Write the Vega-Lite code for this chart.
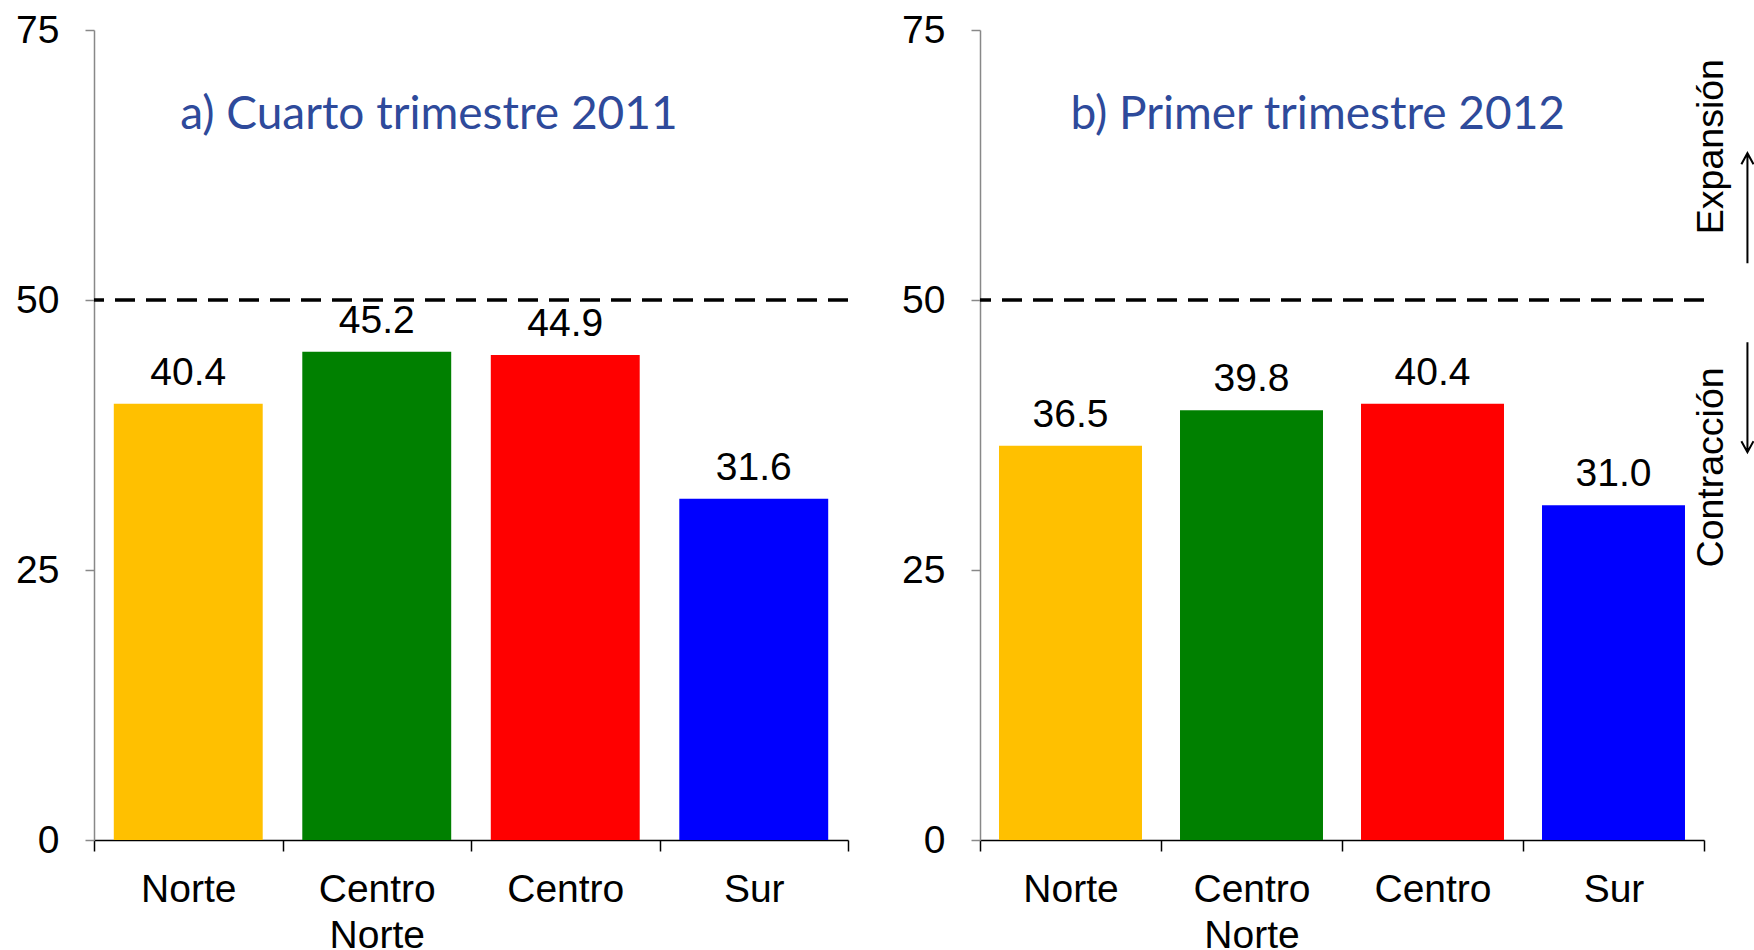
{
  "$schema": "https://vega.github.io/schema/vega-lite/v6.json",
  "background": "white",
  "padding": {"left": 15, "top": 11, "right": 0, "bottom": 0},
  "spacing": 51,
  "config": {"view": {"stroke": null}, "font": "Liberation Sans"},
  "datasets": {
    "cuarto2011": [
      {"region": "Norte", "valor": 40.4},
      {"region": "Centro Norte", "valor": 45.2},
      {"region": "Centro", "valor": 44.9},
      {"region": "Sur", "valor": 31.6}
    ],
    "primer2012": [
      {"region": "Norte", "valor": 36.5},
      {"region": "Centro Norte", "valor": 39.8},
      {"region": "Centro", "valor": 40.4},
      {"region": "Sur", "valor": 31.0}
    ]
  },
  "hconcat": [
    {
      "width": 754,
      "height": 810,
      "layer": [
        {
          "data": {"name": "cuarto2011"},
          "mark": {"type": "bar", "width": {"band": 0.79}},
          "encoding": {
            "x": {"field": "region", "type": "nominal", "sort": null,
              "scale": {"domain": ["Norte", "Centro Norte", "Centro", "Sur"], "paddingInner": 0, "paddingOuter": 0},
              "axis": {"title": null, "labelAngle": 0, "labelFontSize": 39, "labelColor": "black", "labelPadding": 19, "labelBaseline": "top", "labelLineHeight": 46,
                "labelExpr": "datum.value == 'Centro Norte' ? ['Centro', 'Norte'] : datum.value",
                "tickBand": "extent", "tickSize": 11, "tickColor": "black", "tickWidth": 1.5, "domainColor": "black", "domainWidth": 1.5, "grid": false}},
            "y": {"field": "valor", "type": "quantitative",
              "scale": {"domain": [0, 75], "nice": false},
              "axis": {"title": null, "values": [0, 25, 50, 75], "labelFontSize": 39, "labelColor": "black", "labelPadding": 26, "tickSize": 9, "tickColor": "#888888", "tickWidth": 1.5, "domainColor": "#888888", "domainWidth": 1.5, "grid": false}},
            "color": {"field": "region", "type": "nominal",
              "scale": {"domain": ["Norte", "Centro Norte", "Centro", "Sur"], "range": ["#FFC000", "#008000", "#FF0000", "#0000FF"]},
              "legend": null}
          }
        },
        {
          "data": {"name": "cuarto2011"},
          "mark": {"type": "text", "baseline": "alphabetic", "dy": -19, "fontSize": 39, "color": "black"},
          "encoding": {
            "x": {"field": "region", "type": "nominal", "sort": null},
            "y": {"field": "valor", "type": "quantitative"},
            "text": {"field": "valor", "type": "quantitative", "format": ".1f"}
          }
        },
        {
          "data": {"values": [{"nivel": 50}]},
          "mark": {"type": "rule", "strokeDash": [20, 11], "strokeWidth": 3.4, "color": "black"},
          "encoding": {"y": {"field": "nivel", "type": "quantitative"}}
        },
        {
          "data": {"values": [{"titulo": "a) Cuarto trimestre 2011"}]},
          "mark": {"type": "text", "align": "left", "baseline": "alphabetic", "font": "Lato", "fontSize": 46, "color": "#2E4A9B", "dx": -8},
          "encoding": {
            "x": {"datum": "Norte"},
            "y": {"datum": 65.8},
            "text": {"field": "titulo"}
          }
        }
      ]
    },
    {
      "width": 724,
      "height": 810,
      "layer": [
        {
          "data": {"name": "primer2012"},
          "mark": {"type": "bar", "width": {"band": 0.79}},
          "encoding": {
            "x": {"field": "region", "type": "nominal", "sort": null,
              "scale": {"domain": ["Norte", "Centro Norte", "Centro", "Sur"], "paddingInner": 0, "paddingOuter": 0},
              "axis": {"title": null, "labelAngle": 0, "labelFontSize": 39, "labelColor": "black", "labelPadding": 19, "labelBaseline": "top", "labelLineHeight": 46,
                "labelExpr": "datum.value == 'Centro Norte' ? ['Centro', 'Norte'] : datum.value",
                "tickBand": "extent", "tickSize": 11, "tickColor": "black", "tickWidth": 1.5, "domainColor": "black", "domainWidth": 1.5, "grid": false}},
            "y": {"field": "valor", "type": "quantitative",
              "scale": {"domain": [0, 75], "nice": false},
              "axis": {"title": null, "values": [0, 25, 50, 75], "labelFontSize": 39, "labelColor": "black", "labelPadding": 26, "tickSize": 9, "tickColor": "#888888", "tickWidth": 1.5, "domainColor": "#888888", "domainWidth": 1.5, "grid": false}},
            "color": {"field": "region", "type": "nominal",
              "scale": {"domain": ["Norte", "Centro Norte", "Centro", "Sur"], "range": ["#FFC000", "#008000", "#FF0000", "#0000FF"]},
              "legend": null}
          }
        },
        {
          "data": {"name": "primer2012"},
          "mark": {"type": "text", "baseline": "alphabetic", "dy": -19, "fontSize": 39, "color": "black"},
          "encoding": {
            "x": {"field": "region", "type": "nominal", "sort": null},
            "y": {"field": "valor", "type": "quantitative"},
            "text": {"field": "valor", "type": "quantitative", "format": ".1f"}
          }
        },
        {
          "data": {"values": [{"nivel": 50}]},
          "mark": {"type": "rule", "strokeDash": [20, 11], "strokeWidth": 3.4, "color": "black"},
          "encoding": {"y": {"field": "nivel", "type": "quantitative"}}
        },
        {
          "data": {"values": [{"titulo": "b) Primer trimestre 2012"}]},
          "mark": {"type": "text", "align": "left", "baseline": "alphabetic", "font": "Lato", "fontSize": 46, "color": "#2E4A9B", "dx": 0},
          "encoding": {
            "x": {"datum": "Norte"},
            "y": {"datum": 65.8},
            "text": {"field": "titulo"}
          }
        },
        {
          "data": {"values": [{"etiqueta": "Expansión"}]},
          "mark": {"type": "text", "angle": 270, "align": "center", "baseline": "middle", "fontSize": 37.5, "color": "black"},
          "encoding": {
            "x": {"datum": "Sur", "bandPosition": 1.044},
            "y": {"datum": 64.2},
            "text": {"field": "etiqueta"}
          }
        },
        {
          "data": {"values": [{"etiqueta": "Contracción"}]},
          "mark": {"type": "text", "angle": 270, "align": "center", "baseline": "middle", "fontSize": 37.5, "color": "black"},
          "encoding": {
            "x": {"datum": "Sur", "bandPosition": 1.044},
            "y": {"datum": 34.5},
            "text": {"field": "etiqueta"}
          }
        },
        {
          "data": {"values": [{"sentido": "arriba"}]},
          "mark": {"type": "point", "shape": "M0,1L0,-1M-0.11,-0.8L0,-1L0.11,-0.8", "size": 12100, "filled": false, "stroke": "black", "strokeWidth": 2, "opacity": 1},
          "encoding": {
            "x": {"datum": "Sur", "bandPosition": 1.24},
            "y": {"datum": 58.5}
          }
        },
        {
          "data": {"values": [{"sentido": "abajo"}]},
          "mark": {"type": "point", "shape": "M0,-1L0,1M-0.11,0.8L0,1L0.11,0.8", "size": 12100, "filled": false, "stroke": "black", "strokeWidth": 2, "opacity": 1},
          "encoding": {
            "x": {"datum": "Sur", "bandPosition": 1.24},
            "y": {"datum": 41.0}
          }
        }
      ]
    }
  ]
}
